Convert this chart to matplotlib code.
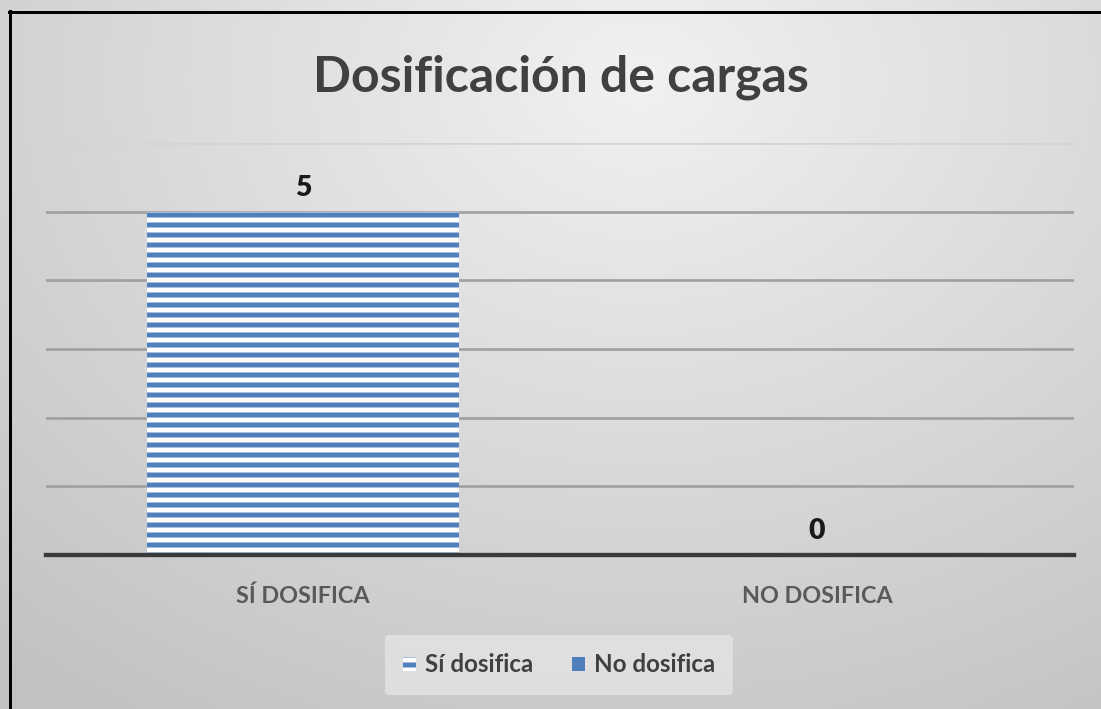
import numpy as np
import matplotlib
matplotlib.use("Agg")
import matplotlib.pyplot as plt
from matplotlib.patches import Rectangle
from matplotlib.lines import Line2D

categories = ["SÍ DOSIFICA", "NO DOSIFICA"]
series_names = ["Sí dosifica", "No dosifica"]
values = [5, 0]
title = "Dosificación de cargas"

W, H, DPI = 1101, 709, 120
plt.rcParams['font.family'] = ['Lato', 'DejaVu Sans']
plt.rcParams['hatch.linewidth'] = 3.0
blue = "#5080BC"
txt = "#404040"

fig = plt.figure(figsize=(W / DPI, H / DPI), dpi=DPI)

# background gradient
bg = fig.add_axes([0, 0, 1, 1], zorder=-10)
yy, xx = np.mgrid[0:H, 0:W]
d = np.sqrt(((xx - 640) / 900.0) ** 2 + ((yy - 80) / 700.0) ** 2)
g = 0.945 - 0.17 * np.clip(d, 0, 1.1)
bg.imshow(np.dstack([g, g, g]), extent=[0, W, H, 0], aspect='auto', interpolation='bilinear')
bg.set_xlim(0, W); bg.set_ylim(H, 0)
bg.axis('off')
# black frame on top/left
bg.add_line(Line2D([9.5, 9.5], [11, H], color='black', lw=1.8))
bg.add_line(Line2D([9, W], [11.5, 11.5], color='black', lw=1.8))

ax = fig.add_axes([46 / W, 1 - 555 / H, 1028 / W, 412 / H])
ax.set_facecolor('none')
x = np.arange(len(categories))
bars = ax.bar(x, values, width=0.607, color='white', edgecolor=blue, linewidth=0, zorder=3)
bars[0].set_hatch('--')
bars[1].set_facecolor(blue)

ax.set_xlim(-0.5, 1.5)
ax.set_ylim(0, 6)
ax.set_yticks(np.arange(0, 7, 1))
ax.tick_params(axis='y', left=False, labelleft=False)
ax.tick_params(axis='x', bottom=False, pad=15)
ax.set_xticks(x)
ax.set_xticklabels(categories, fontsize=14, fontweight='bold', color='#595959')
ax.grid(axis='y', color='#A0A0A0', lw=1.6, zorder=0)
gl = ax.yaxis.get_gridlines()
gl[-1].set_color('#D4D4D4')
for s in ['top', 'right', 'left']:
    ax.spines[s].set_visible(False)
ax.spines['bottom'].set_color('#3A3A3A')
ax.spines['bottom'].set_linewidth(2.6)
ax.spines['bottom'].set_zorder(5)

for xi, v in zip(x, values):
    ax.text(xi, v + 0.16, str(v), ha='center', va='bottom', fontsize=17,
            fontweight='heavy', color='#1A1A1A')

fig.text(561 / W, 1 - 77 / H, title, ha='center', va='center', fontsize=30,
         fontweight='bold', color=txt)

handles = [Rectangle((0, 0), 1, 1, facecolor='white', edgecolor=blue, hatch='--', lw=0),
           Rectangle((0, 0), 1, 1, facecolor=blue, lw=0)]
leg = fig.legend(handles, series_names, loc='center', bbox_to_anchor=(559 / W, 1 - 665 / H),
                 ncol=2, frameon=True, fontsize=14.5, handlelength=0.55, handleheight=0.55,
                 handletextpad=0.35, columnspacing=1.6, borderpad=0.75)
leg.get_frame().set_facecolor('#E4E4E4')
leg.get_frame().set_edgecolor('none')
leg.get_frame().set_alpha(0.8)
for t in leg.get_texts():
    t.set_fontweight('bold')
    t.set_color(txt)

fig.savefig('out.png', dpi=DPI)
